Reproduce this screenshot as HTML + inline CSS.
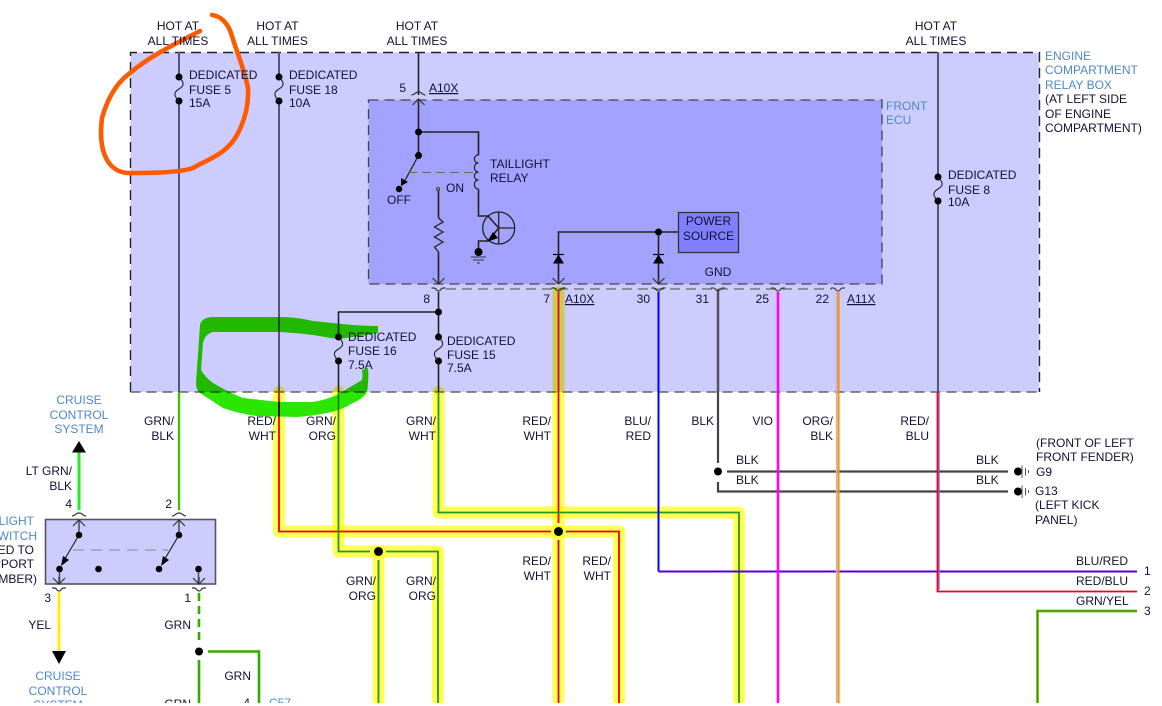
<!DOCTYPE html>
<html><head><meta charset="utf-8">
<style>
html,body{margin:0;padding:0;background:#fff;width:1162px;height:706px;overflow:hidden}
svg{display:block}
text{font-family:"Liberation Sans",sans-serif;font-size:12px;fill:#111133}
.e{text-anchor:end}.m{text-anchor:middle}
.b{fill:#4f88c8}
.w{fill:none;stroke-linejoin:miter}
.h{fill:none;stroke:#ffff55;stroke-width:12;stroke-linejoin:round;stroke-linecap:round;mix-blend-mode:multiply}
.t{fill:none;stroke:#222;stroke-width:1.3}
.g{fill:none;stroke:#555570;stroke-width:2}
</style></head><body>
<svg width="1162" height="706" viewBox="0 0 1162 706" xmlns="http://www.w3.org/2000/svg">
<defs>
<g id="dn"><path d="M-6,-6 L0,0 L6,-6 M0,-7V0" fill="none" stroke="#333" stroke-width="1.2"/><path d="M-7,4 H-5 Q-3,4 -2,6 Q0,8 2,6 Q3,4 5,4 H7" fill="none" stroke="#333" stroke-width="1.2"/></g>
<g id="up"><path d="M-6,6 L0,0 L6,6" fill="none" stroke="#333" stroke-width="1.2"/><path d="M-7,-4 Q-5,-4 -3,-6 Q0,-8 3,-6 Q5,-4 7,-4" fill="none" stroke="#333" stroke-width="1.2"/></g>
<g id="fuse"><circle cx="0" cy="0" r="3.5" fill="#000"/><circle cx="0" cy="24" r="3.5" fill="#000"/><path d="M0,0 C6,6 5,9 0,12 C-5,15 -6,18 0,24" fill="none" stroke="#222" stroke-width="1.1"/></g>
<g id="diode"><path d="M-5.500,9 L0,0 L5.500,9Z" fill="#000"/><path d="M-5.500,0H5.500" stroke="#000" stroke-width="1.2"/></g>
</defs>

<!-- boxes -->
<rect x="130.5" y="52.5" width="909" height="339.5" fill="#ccccff"/>
<path d="M130.5,392V52.5H1039.5V392" fill="none" stroke="#222" stroke-width="1.4" stroke-dasharray="10 6"/>
<path d="M130.5,392H1039.5" fill="none" stroke="#666" stroke-width="1.4" stroke-dasharray="10 6"/>
<rect x="368.5" y="100" width="513.5" height="184" fill="#a3a3ff"/>
<rect x="368.5" y="100" width="513.5" height="184" fill="none" stroke="#444" stroke-width="1.3" stroke-dasharray="10 6"/>
<path d="M446,289H832" fill="none" stroke="#666" stroke-width="1.2" stroke-dasharray="10 6"/>

<!-- wires in box -->
<path class="g" d="M179,52V77M179,101V392M279,52V77M279,101V392M938,52V177M938,201V392"/>
<path class="t" style="stroke-width:1.6" d="M418.5,52V95M418.5,100V132M418.5,132V155.5M418.5,132H478.5V155M478.5,189V216H488L498.7,228M498.7,228L488,241H478.5V252M438.5,189V218M438.5,252V284M438.5,292V337M438.5,360V392M338.5,392V360M338.5,337V312H438.5M558.5,284V232H678M658.5,232V284"/>

<!-- colored wires outside -->
<path class="w" stroke="#44bb00" stroke-width="2.4" d="M179,392V510"/>
<path class="w" stroke="#22ee22" stroke-width="3" d="M79,452V510"/>
<path class="w" stroke="#444" stroke-width="2.2" d="M718,294V463M727,471.5H1008M718,482V491.5H1008"/>

<!-- highlight -->
<path class="h" d="M279,392V531.5H558.5"/>
<path class="h" d="M338.5,392V551.5H378.5M384,551.5H438V700"/>
<path class="h" d="M378.5,551.5V700"/>
<path class="h" d="M438.5,392V512.5H739V700"/>
<path class="h" d="M558.5,292V700"/>
<path class="h" d="M564,531.5H619V700"/>

<!-- highlighted wires -->
<path class="w" stroke="#ee0000" stroke-width="1.8" d="M279,392V531.5H551M558.5,292V523M558.5,540V703M566,531.5H619V703"/>
<path class="w" stroke="#229922" stroke-width="1.8" d="M338.5,392V551.5H370M386,551.5H438V703M378.5,560V703M438.5,392V512.5H739V703"/>

<!-- other wires -->
<path class="w" stroke="#0000ff" stroke-width="2" d="M658.5,292V571.5"/>
<path class="w" stroke="#5500cc" stroke-width="2" d="M658.5,571.5H1137"/>
<path class="w" stroke="#555" stroke-width="2.4" d="M718,289V392"/>
<path class="w" stroke="#ff00ff" stroke-width="2.6" d="M778,292V703"/>
<path class="w" stroke="#bbb" stroke-width="1.4" d="M836.5,292V703"/>
<path class="w" stroke="#ff8800" stroke-width="2" d="M838.5,292V703"/>
<path class="w" stroke="#8866dd" stroke-width="1.4" d="M939,392V590"/>
<path class="w" stroke="#ee0022" stroke-width="1.8" d="M937.5,392V591.5H1137"/>
<path class="w" stroke="#9fc830" stroke-width="3" d="M1037.5,703V611H1137"/>
<path class="w" stroke="#339900" stroke-width="1.4" d="M1037.5,703V611H1137"/>
<path class="w" stroke="#ffee00" stroke-width="2.8" d="M59,592V652"/>
<path class="w" stroke="#33aa00" stroke-width="2.6" d="M199,593V645" stroke-dasharray="8 5"/>
<path class="w" stroke="#33aa00" stroke-width="2.6" d="M199,660V703M208,651.5H259V703"/>

<!-- dots on wires -->
<g fill="#000">
<circle cx="558.5" cy="531.5" r="4.5"/><circle cx="378.5" cy="551.5" r="4.5"/>
<circle cx="718" cy="471.5" r="4"/><circle cx="199" cy="651.5" r="4"/>
<circle cx="438.5" cy="312" r="3.5"/><circle cx="418.5" cy="132" r="3.5"/><circle cx="418.5" cy="155.5" r="3.5"/><circle cx="399" cy="189" r="3.2"/><circle cx="658.5" cy="232" r="3.5"/>
</g>
<circle cx="438" cy="189" r="1.6" fill="#888" stroke="#333" stroke-width=".8"/>

<!-- fuses -->
<use href="#fuse" x="179" y="77"/><use href="#fuse" x="279" y="77"/>
<use href="#fuse" x="338.5" y="337"/><use href="#fuse" x="438.5" y="337"/><use href="#fuse" x="938" y="177"/>

<!-- relay -->
<path d="M418.5,155.5L403,184" class="t"/><path d="M401,186L401,178L408,182Z" fill="#000"/>
<path d="M408,172.5H476" fill="none" stroke="#666" stroke-width="1" stroke-dasharray="9 5"/>
<path class="t" style="stroke-width:1.2" d="M478.5,155 C473,155 473,163 478.5,163 C473,163 473,172 478.5,172 C473,172 473,180 478.5,180 C473,180 473,189 478.5,189"/>
<path class="t" style="stroke-width:1.3" d="M438.5,218L443,222L434.5,227L443,232L434.5,237L443,242L434.5,247L438.5,252"/>
<circle cx="498.7" cy="228" r="16" fill="none" stroke="#222" stroke-width="1.3"/>
<path class="t" d="M498.7,212V244M498.7,228H515"/>
<path d="M487,242L493,232L498,238Z" fill="#000"/>
<circle cx="478.5" cy="252" r="4" fill="#000"/>
<path d="M471,257H486M473,260H484M477,263H480" stroke="#333" stroke-width="1" fill="none"/>

<!-- power source -->
<rect x="678.5" y="212.5" width="60" height="40" fill="#7f7fff" stroke="#333" stroke-width="1.3"/>
<use href="#diode" x="558.5" y="254.5"/><use href="#diode" x="658.5" y="254.5"/>

<!-- connectors -->
<use href="#up" x="418.5" y="99"/>
<use href="#dn" x="438.5" y="284"/><use href="#dn" x="558.5" y="284"/><use href="#dn" x="658.5" y="284"/>
<path d="M711,288H713Q715,288 716,290Q718,292 720,290Q721,288 723,288H725M771,288H773Q775,288 776,290Q778,292 780,290Q781,288 783,288H785M831,288H833Q835,288 836,290Q838,292 840,290Q841,288 843,288H845" fill="none" stroke="#444" stroke-width="1.2"/>

<!-- switch box -->
<rect x="45.5" y="519.5" width="170" height="64.5" fill="#ccccff" stroke="#555" stroke-width="1.6"/>
<path d="M79,519V535M179,519V535M59.5,569V584M198.5,569V584" stroke="#555" stroke-width="1.6" fill="none"/>
<path d="M79,535L63,562M179,535L163,562" stroke="#222" stroke-width="1.2" fill="none"/>
<path d="M61,566L63,556L69,560ZM161,566L163,556L169,560Z" fill="#000"/>
<path d="M73,550H168" stroke="#888" stroke-width="1.1" stroke-dasharray="11 7" fill="none"/>
<g fill="#000"><circle cx="79" cy="535" r="3.3"/><circle cx="179" cy="535" r="3.3"/><circle cx="59.5" cy="569" r="3.3"/><circle cx="98.5" cy="569" r="3.3"/><circle cx="159" cy="569" r="3.3"/><circle cx="198.5" cy="569" r="3.3"/></g>
<use href="#up" x="79" y="520"/><use href="#up" x="179" y="520"/>
<use href="#dn" x="59" y="584"/><use href="#dn" x="199" y="584"/>
<path d="M72,452.500L79,441L86,452.500Z" fill="#000"/>
<path d="M52,651L66,651L59,664Z" fill="#000"/>

<!-- grounds -->
<g fill="#000"><circle cx="1018" cy="471.500" r="4"/><circle cx="1018" cy="491.500" r="4"/></g>
<path d="M1022,465.500V478M1022,485.500V498M1025.500,468V475.500M1025.500,488V495.500M1028.500,470V473M1028.500,490V493" stroke="#555" stroke-width="1" fill="none"/>

<!-- hand-drawn annotations -->
<path d="M200,31C175,44 150,56 130,73C115,84 107,100 102,118C100,135 101,148 106,158C111,168 118,172 127,173C150,173 178,173 193,168C206,160 226,155 237,135C245,120 249,105 248,88C244,68 236,50 231,33C227,22 220,16 212,15" fill="none" stroke="#ff5a00" stroke-width="4.6" stroke-linecap="round"/>
<path d="M378,326C355,326 335,323 313,321C300,318 290,317 280,317L212,317Q201,318 200,325L196,383Q196,390 200,393L223,408Q240,414 257,416L297,417Q312,416 327,413Q342,410 353,403Q364,398 367,392Q369,380 368,368L362,370Q363,376 362,380L337,395Q325,400 313,402L280,402L243,398Q228,392 213,383Q205,377 201,370L203,343Q205,334 213,332L280,332Q297,333 313,335L337,339Q358,337 378,333Z" fill="#2ae600" style="mix-blend-mode:multiply"/>

<!-- labels -->
<text x="178" y="30" class="m">HOT AT</text><text x="178" y="45" class="m">ALL TIMES</text>
<text x="277.500" y="30" class="m">HOT AT</text><text x="277.500" y="45" class="m">ALL TIMES</text>
<text x="417" y="30" class="m">HOT AT</text><text x="417" y="45" class="m">ALL TIMES</text>
<text x="936" y="30" class="m">HOT AT</text><text x="936" y="45" class="m">ALL TIMES</text>
<text x="189" y="79">DEDICATED</text><text x="189" y="94">FUSE 5</text><text x="189" y="107">15A</text>
<text x="289" y="79">DEDICATED</text><text x="289" y="94">FUSE 18</text><text x="289" y="107">10A</text>
<text x="948" y="179">DEDICATED</text><text x="948" y="194">FUSE 8</text><text x="948" y="206">10A</text>
<text x="348" y="341">DEDICATED</text><text x="348" y="355">FUSE 16</text><text x="348" y="369">7.5A</text>
<text x="447" y="345">DEDICATED</text><text x="447" y="359">FUSE 15</text><text x="447" y="372">7.5A</text>
<text x="406" y="92" class="e">5</text><text x="429" y="92" text-decoration="underline">A10X</text>
<text x="886" y="110" class="b">FRONT</text><text x="886" y="124" class="b">ECU</text>
<text x="1045" y="60" class="b">ENGINE</text><text x="1045" y="74" class="b">COMPARTMENT</text><text x="1045" y="89" class="b">RELAY BOX</text>
<text x="1045" y="103">(AT LEFT SIDE</text><text x="1045" y="118">OF ENGINE</text><text x="1045" y="132">COMPARTMENT)</text>
<text x="490" y="168">TAILLIGHT</text><text x="490" y="182">RELAY</text>
<text x="399" y="204" class="m">OFF</text><text x="446" y="192">ON</text>
<text x="708.500" y="225" class="m">POWER</text><text x="708.500" y="240" class="m">SOURCE</text>
<text x="718" y="276" class="m">GND</text>
<text x="430" y="303" class="e">8</text><text x="550" y="303" class="e">7</text><text x="565" y="303" text-decoration="underline">A10X</text>
<text x="650" y="303" class="e">30</text><text x="709" y="303" class="e">31</text><text x="769" y="303" class="e">25</text><text x="829" y="303" class="e">22</text><text x="847" y="303" text-decoration="underline">A11X</text>

<text x="174" y="425" class="e">GRN/</text><text x="174" y="440" class="e">BLK</text>
<text x="276" y="425" class="e">RED/</text><text x="276" y="440" class="e">WHT</text>
<text x="336" y="425" class="e">GRN/</text><text x="336" y="440" class="e">ORG</text>
<text x="436" y="425" class="e">GRN/</text><text x="436" y="440" class="e">WHT</text>
<text x="551" y="425" class="e">RED/</text><text x="551" y="440" class="e">WHT</text>
<text x="651" y="425" class="e">BLU/</text><text x="651" y="440" class="e">RED</text>
<text x="714" y="425" class="e">BLK</text><text x="773" y="425" class="e">VIO</text>
<text x="833" y="425" class="e">ORG/</text><text x="833" y="440" class="e">BLK</text>
<text x="929" y="425" class="e">RED/</text><text x="929" y="440" class="e">BLU</text>
<text x="736" y="464">BLK</text><text x="736" y="484">BLK</text><text x="976" y="464">BLK</text><text x="976" y="484">BLK</text>
<text x="1036" y="447">(FRONT OF LEFT</text><text x="1036" y="461">FRONT FENDER)</text><text x="1036" y="476">G9</text><text x="1035" y="495">G13</text><text x="1035" y="509">(LEFT KICK</text><text x="1035" y="524">PANEL)</text>

<text x="551" y="565" class="e">RED/</text><text x="551" y="580" class="e">WHT</text>
<text x="611" y="565" class="e">RED/</text><text x="611" y="580" class="e">WHT</text>
<text x="376" y="585" class="e">GRN/</text><text x="376" y="600" class="e">ORG</text>
<text x="436" y="585" class="e">GRN/</text><text x="436" y="600" class="e">ORG</text>

<text x="1076" y="565">BLU/RED</text><text x="1076" y="585">RED/BLU</text><text x="1076" y="605">GRN/YEL</text>
<text x="1144" y="575">1</text><text x="1144" y="595">2</text><text x="1144" y="615">3</text>

<text x="79" y="404" class="b" style="text-anchor:middle">CRUISE</text>
<text x="79" y="419" class="b" style="text-anchor:middle">CONTROL</text>
<text x="79" y="433" class="b" style="text-anchor:middle">SYSTEM</text>
<text x="72" y="475" class="e">LT GRN/</text><text x="72" y="490" class="e">BLK</text>
<text x="72" y="508" class="e">4</text><text x="172" y="508" class="e">2</text>
<text x="34" y="525" class="b" style="text-anchor:end">LIGHT</text>
<text x="37" y="540" class="b" style="text-anchor:end">WITCH</text>
<text x="34" y="554" class="e">ED TO</text><text x="34" y="568" class="e">PPORT</text><text x="37" y="583" class="e">MBER)</text>
<text x="51" y="602" class="e">3</text><text x="191" y="602" class="e">1</text>
<text x="51" y="629" class="e">YEL</text><text x="191" y="629" class="e">GRN</text>
<text x="58" y="680" class="b" style="text-anchor:middle">CRUISE</text>
<text x="58" y="695" class="b" style="text-anchor:middle">CONTROL</text>
<text x="58" y="709" class="b" style="text-anchor:middle">SYSTEM</text>
<text x="251" y="680" class="e">GRN</text>
<text x="191" y="708" class="e">GRN</text>
<text x="250" y="707" class="e">4</text>
<text x="269" y="707" class="b" text-decoration="underline">C57</text>

<rect x="0" y="703" width="1162" height="3" fill="#fff"/>
</svg>
</body></html>
